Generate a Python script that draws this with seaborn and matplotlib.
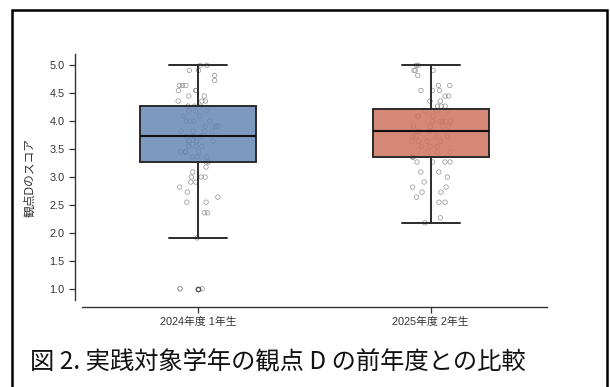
import numpy as np
import pandas as pd
import matplotlib.pyplot as plt
import matplotlib.colors as mcolors
from matplotlib.patches import Rectangle
import seaborn as sns

sns.set_style("ticks")
plt.rcParams["font.family"] = ["Liberation Sans", "Noto Sans CJK JP", "DejaVu Sans"]

# ---------------------------------------------------------------
# data
# ---------------------------------------------------------------
groups = ["2024年度 1年生", "2025年度 2年生"]
box_colors = ["#5B86C2", "#E3694D"]

scores_2024 = [
    5.00, 5.00, 4.91, 4.91, 4.82, 4.73, 4.64, 4.64, 4.64, 4.55, 4.55, 4.55,
    4.45, 4.45, 4.36, 4.36, 4.36, 4.27, 4.27, 4.27, 4.18, 4.18, 4.18,
    4.09, 4.09, 4.00, 4.00, 4.00, 4.00, 3.91, 3.91, 3.91, 3.91,
    3.82, 3.82, 3.82, 3.82, 3.73, 3.73, 3.73, 3.73,
    3.64, 3.64, 3.64, 3.64, 3.64, 3.55, 3.55, 3.55, 3.55,
    3.45, 3.45, 3.45, 3.45, 3.36, 3.36, 3.36, 3.27, 3.27,
    3.18, 3.09, 3.00, 3.00, 3.00, 2.91, 2.91, 2.82, 2.73, 2.64,
    2.55, 2.55, 2.36, 2.36, 1.91, 1.00, 1.00, 1.00,
]
scores_2025 = [
    5.00, 5.00, 4.91, 4.91, 4.91, 4.82, 4.64, 4.64, 4.55, 4.55, 4.55,
    4.45, 4.45, 4.36, 4.36, 4.27, 4.27, 4.27, 4.18, 4.18, 4.18,
    4.09, 4.09, 4.09, 4.00, 4.00, 4.00, 4.00, 4.00, 3.91, 3.91, 3.91, 3.91,
    3.82, 3.82, 3.82, 3.82, 3.73, 3.73, 3.73, 3.73, 3.64, 3.64, 3.64, 3.64,
    3.55, 3.55, 3.55, 3.45, 3.45, 3.45, 3.36, 3.36, 3.36,
    3.27, 3.27, 3.27, 3.27, 3.09, 3.09, 3.00, 2.91, 2.82, 2.82,
    2.73, 2.73, 2.64, 2.55, 2.55, 2.27, 2.18,
]

df = pd.DataFrame({
    "group": [groups[0]] * len(scores_2024) + [groups[1]] * len(scores_2025),
    "score": scores_2024 + scores_2025,
})

fig = plt.figure(figsize=(6.1, 3.87), dpi=100)
ax = fig.add_axes([0.134, 0.225, 0.763, 0.635])

np.random.seed(3)
sns.stripplot(data=df, x="group", y="score", order=groups, jitter=0.09,
              size=3.2, linewidth=0.55, edgecolor="#999999", color="#999999", ax=ax)
for coll in ax.collections:
    coll.set_facecolor("none")
    coll.set_edgecolor("#999999")
    coll.set_zorder(1)

sns.boxplot(data=df, x="group", y="score", order=groups, hue="group",
            hue_order=groups, palette=box_colors, width=0.5, linewidth=1.4,
            linecolor="#2b2b2b", fliersize=3.2, legend=False,
            flierprops=dict(marker="o", markerfacecolor="none",
                            markeredgecolor="#555555", markeredgewidth=0.7),
            medianprops=dict(color="#111111", linewidth=1.5), ax=ax)
for patch in ax.patches:
    patch.set_facecolor(mcolors.to_rgba(patch.get_facecolor(), 0.86))
    patch.set_zorder(2)

ax.set_xlim(-0.5, 1.5)
ax.set_ylim(0.8, 5.2)
ax.set_yticks([1.0, 1.5, 2.0, 2.5, 3.0, 3.5, 4.0, 4.5, 5.0])
ax.set_yticklabels([f"{v:.1f}" for v in ax.get_yticks()])
ax.set_xlabel("")
ax.set_ylabel("観点Dのスコア", fontsize=8.5, color="#333333", labelpad=9)
ax.tick_params(axis="both", labelsize=7.8, length=4, width=0.9, colors="#333333")
sns.despine(ax=ax, offset=5)
for side in ["left", "bottom"]:
    ax.spines[side].set_linewidth(1.0)
    ax.spines[side].set_color("#333333")

# frame around the figure and caption
fig.patches.append(Rectangle((0.0197, -0.05), 0.975, 1.024, transform=fig.transFigure,
                             fill=False, edgecolor="black", linewidth=1.8, clip_on=False))
fig.text(0.049, 0.065, "図 2. 実践対象学年の観点 D の前年度との比較", fontsize=17.5,
         family=["Noto Sans CJK JP", "DejaVu Sans"], va="center", ha="left", color="#111111")

fig.savefig("out.png", dpi=100)
